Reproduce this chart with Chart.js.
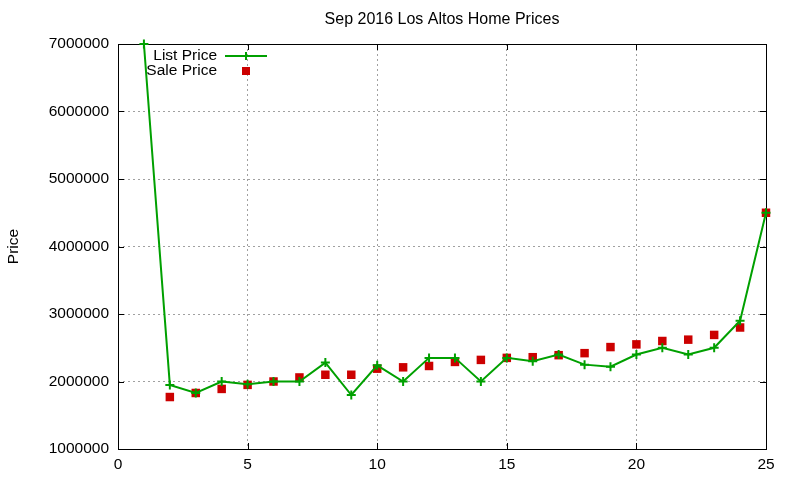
<!DOCTYPE html>
<html>
<head>
<meta charset="utf-8">
<script src="https://cdn.jsdelivr.net/npm/chart.js@4"></script>
<style>
  html, body { margin: 0; padding: 0; background: #fff; }
  #wrap { width: 800px; height: 480px; }
</style>
</head>
<body>
<div id="wrap"><canvas id="chart"></canvas></div>
<script>
// Data
const days = [1, 2, 3, 4, 5, 6, 7, 8, 9, 10, 11, 12, 13, 14, 15, 16, 17, 18, 19, 20, 21, 22, 23, 24, 25];
const listPrice = [7000000, 1950000, 1830000, 2000000, 1960000, 2000000, 2000000, 2280000, 1800000, 2240000,
    2000000, 2350000, 2350000, 2000000, 2350000, 2300000, 2400000, 2250000, 2220000, 2400000,
    2500000, 2400000, 2500000, 2900000, 4500000];
const saleDays = [2, 3, 4, 5, 6, 7, 8, 9, 10, 11, 12, 13, 14, 15, 16, 17, 18, 19, 20, 21, 22, 23, 24, 25];
const salePrice = [1770000, 1830000, 1890000, 1950000, 2000000, 2060000, 2100000, 2100000, 2190000, 2210000,
    2230000, 2290000, 2320000, 2350000, 2360000, 2390000, 2420000, 2510000, 2550000, 2600000,
    2620000, 2690000, 2800000, 4500000];
const yTicks = [1000000, 2000000, 3000000, 4000000, 5000000, 6000000, 7000000];
const xTicks = [0, 5, 10, 15, 20, 25];

const FONT = 'Liberation Sans, Arial, sans-serif';
const GREEN = '#00a000';
const RED = '#cc0000';

// gnuplot-like frame: black border, inward ticks on all four sides
const framePlugin = {
    id: 'frame',
    beforeDatasetsDraw(chart) {
        const { ctx, chartArea: a, scales } = chart;
        ctx.save();
        ctx.strokeStyle = '#000';
        ctx.lineWidth = 1;
        ctx.strokeRect(Math.round(a.left) + 0.5, Math.round(a.top) + 0.5,
            Math.round(a.right - a.left), Math.round(a.bottom - a.top));
        ctx.beginPath();
        xTicks.forEach(v => {
            const x = Math.round(scales.x.getPixelForValue(v)) + 0.5;
            ctx.moveTo(x, a.bottom); ctx.lineTo(x, a.bottom - 6);
            ctx.moveTo(x, a.top); ctx.lineTo(x, a.top + 6);
        });
        yTicks.forEach(v => {
            const y = Math.round(scales.y.getPixelForValue(v)) + 0.5;
            ctx.moveTo(a.left, y); ctx.lineTo(a.left + 6, y);
            ctx.moveTo(a.right, y); ctx.lineTo(a.right - 6, y);
        });
        ctx.stroke();
        ctx.restore();
    },
    afterDatasetsDraw(chart) {
        // key in the top-left corner, text right-aligned like gnuplot
        const { ctx } = chart;
        ctx.save();
        ctx.font = '15.5px ' + FONT;
        ctx.fillStyle = '#000';
        ctx.textAlign = 'right';
        ctx.textBaseline = 'middle';
        ctx.fillText('List Price', 217, 56);
        ctx.fillText('Sale Price', 217, 71);
        ctx.strokeStyle = GREEN;
        ctx.lineWidth = 2;
        ctx.beginPath();
        ctx.moveTo(225, 56); ctx.lineTo(267, 56);
        ctx.moveTo(246, 52); ctx.lineTo(246, 60);
        ctx.stroke();
        ctx.fillStyle = RED;
        ctx.fillRect(242, 67, 8, 8);
        ctx.restore();
    }
};

new Chart(document.getElementById('chart'), {
    type: 'line',
    data: {
        datasets: [{
            label: 'List Price',
            data: days.map((d, i) => ({ x: d, y: listPrice[i] })),
            borderColor: GREEN,
            backgroundColor: GREEN,
            borderWidth: 2,
            tension: 0,
            pointStyle: 'cross',
            pointRadius: 4.5,
            pointBorderWidth: 2,
            pointBorderColor: GREEN,
            clip: 10
        }, {
            label: 'Sale Price',
            data: saleDays.map((d, i) => ({ x: d, y: salePrice[i] })),
            showLine: false,
            backgroundColor: RED,
            borderColor: RED,
            pointStyle: 'rect',
            pointRadius: 6,
            pointBorderWidth: 0,
            clip: 10
        }]
    },
    options: {
        responsive: true,
        maintainAspectRatio: false,
        animation: false,
        layout: { padding: { top: 44, left: 0, right: 34, bottom: 0 } },
        plugins: {
            legend: { display: false },
            tooltip: { enabled: false },
            title: { display: false }
        },
        scales: {
            x: {
                type: 'linear',
                min: 0,
                max: 25,
                afterBuildTicks: s => { s.ticks = xTicks.map(v => ({ value: v })); },
                afterFit: s => { s.height = 31; },
                grid: { color: '#a0a0a0', drawTicks: false, lineWidth: 1 },
                border: { display: false, dash: [2, 3] },
                ticks: { color: '#000', font: { family: FONT, size: 15.5 }, padding: 6, maxRotation: 0 }
            },
            y: {
                min: 1000000,
                max: 7000000,
                afterBuildTicks: s => { s.ticks = yTicks.map(v => ({ value: v })); },
                afterFit: s => { s.width = 118; },
                grid: { color: '#a0a0a0', drawTicks: false, lineWidth: 1 },
                border: { display: false, dash: [2, 3] },
                ticks: { color: '#000', font: { family: FONT, size: 15.5 }, padding: 9, callback: v => String(v) },
                title: { display: true, text: 'Price', color: '#000', font: { family: FONT, size: 15.5 }, padding: { top: 4, bottom: 0 } }
            }
        }
    },
    plugins: [framePlugin, {
        id: 'heading',
        afterDraw(chart) {
            const { ctx, chartArea: a } = chart;
            ctx.save();
            ctx.font = '16px ' + FONT;
            ctx.fillStyle = '#000';
            ctx.textAlign = 'center';
            ctx.textBaseline = 'middle';
            ctx.fillText('Sep 2016 Los Altos Home Prices', (a.left + a.right) / 2, 20);
            ctx.restore();
        }
    }]
});
</script>
</body>
</html>
